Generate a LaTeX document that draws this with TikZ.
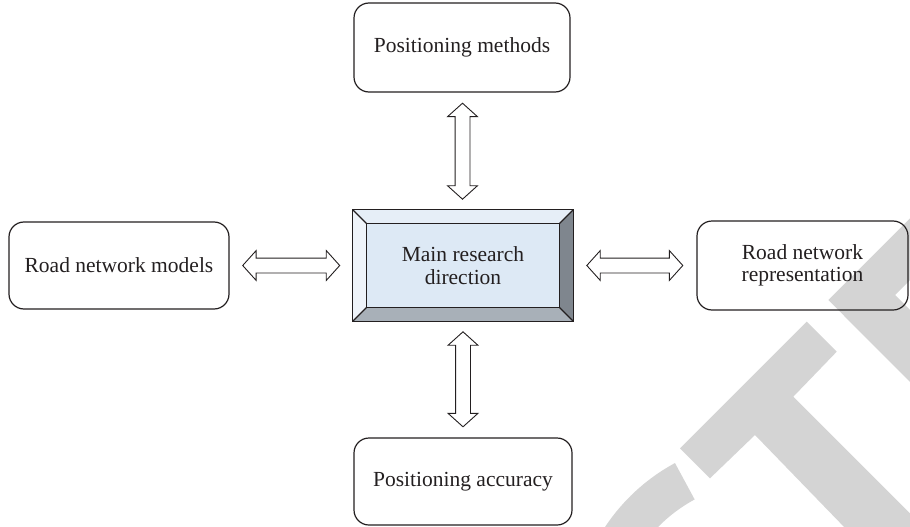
\documentclass[tikz,border=0pt]{standalone}
\usepackage{fontspec}
\setmainfont{Liberation Serif}
\usetikzlibrary{calc,shapes.arrows}

\definecolor{ink}{HTML}{231F20}
\definecolor{wmgray}{RGB}{212,212,212}
\definecolor{faceblue}{HTML}{DDE9F5}
\definecolor{bevtop}{HTML}{E6EEF7}
\definecolor{bevleft}{HTML}{EFF4FA}
\definecolor{bevright}{HTML}{7F868E}
\definecolor{bevbottom}{HTML}{A8B0B8}

\tikzset{
  topic/.style={draw=ink, line width=1.2pt, rounded corners=15pt,
    align=center, text=ink, inner sep=0pt,
    font=\fontsize{21.5}{22.5}\selectfont},
  hub/.style={inner sep=0pt, align=center, text=ink,
    minimum width=220pt, minimum height=111pt},
  link/.style={shape=double arrow, draw=ink, fill=white, line width=0.9pt,
    inner xsep=0pt, inner ysep=7pt, minimum width=29pt, minimum height=96pt,
    double arrow head extend=7.5pt, double arrow tip angle=96}
}

\begin{document}
\begin{tikzpicture}[x=1pt,y=-1pt]
\useasboundingbox (0,0) rectangle (910,527);

% watermark strokes in the lower right corner
\begin{scope}
  \clip (0,0) rectangle (910,527);
  \fill[wmgray] (680,448.3) -- (806.7,321.7) -- (836.7,351.7) -- (793.3,396.7)
    -- (910,513.3) -- (915,530) -- (847,530) -- (755,435) -- (710,478.3) -- cycle;
  \fill[wmgray] (828.3,300) -- (910,218.3) -- (910,280) -- (895,295)
    -- (910,310) -- (910,382) -- cycle;
  \fill[wmgray] (767.9,634.9) ++(-118.4:195.4) arc[start angle=-118.4, end angle=-170, radius=195.4]
    -- ($(767.9,634.9)+(-170:154)$) arc[start angle=-170, end angle=-118.4, radius=154] -- cycle;
\end{scope}

% topic boxes
\node[topic, minimum width=216pt, minimum height=89pt] (pm) at (462,47.5) {Positioning methods};
\node[topic, minimum width=220pt, minimum height=87pt] (rnm) at (119,265.5) {Road network models};
\node[topic, minimum width=211pt, minimum height=89pt] (rnr) at (802.5,265.5) {Road network\\representation};
\node[topic, minimum width=218pt, minimum height=87pt] (pa) at (463,481.5) {Positioning accuracy};

% central bevelled box
\node[hub] (mr) at (463,265.5) {};
\coordinate (iNW) at ($(mr.north west)+(14,14)$);
\coordinate (iNE) at ($(mr.north east)+(-14,14)$);
\coordinate (iSW) at ($(mr.south west)+(14,-14)$);
\coordinate (iSE) at ($(mr.south east)+(-14,-14)$);
\fill[bevtop] (mr.north west) -- (mr.north east) -- (iNE) -- (iNW) -- cycle;
\fill[bevleft] (mr.north west) -- (iNW) -- (iSW) -- (mr.south west) -- cycle;
\fill[bevright] (mr.north east) -- (mr.south east) -- (iSE) -- (iNE) -- cycle;
\fill[bevbottom] (mr.south west) -- (iSW) -- (iSE) -- (mr.south east) -- cycle;
\fill[faceblue] (iNW) rectangle (iSE);
\begin{scope}[draw=ink, line width=1.1pt]
  \draw (mr.north west) rectangle (mr.south east);
  \draw (iNW) rectangle (iSE);
  \draw (mr.north west) -- (iNW);
  \draw (mr.north east) -- (iNE);
  \draw (mr.south west) -- (iSW);
  \draw (mr.south east) -- (iSE);
\end{scope}
\node[text=ink, align=center, font=\fontsize{21.5}{22.5}\selectfont] (mrt) at (mr.center) {Main research\\direction};

% two-way links between the hub and each topic
\node[link, rotate=90] (l1) at ($(pm.south)!0.5!(mr.north)$) {};
\node[link, rotate=90, minimum height=95pt] (l2) at ($(mr.south)!0.5!(pa.north)$) {};
\node[link, minimum height=97pt] (l3) at ($(rnm.east)!0.5!(mr.west)$) {};
\node[link] (l4) at ($(mr.east)!0.5!(rnr.west)$) {};
\end{tikzpicture}
\end{document}
